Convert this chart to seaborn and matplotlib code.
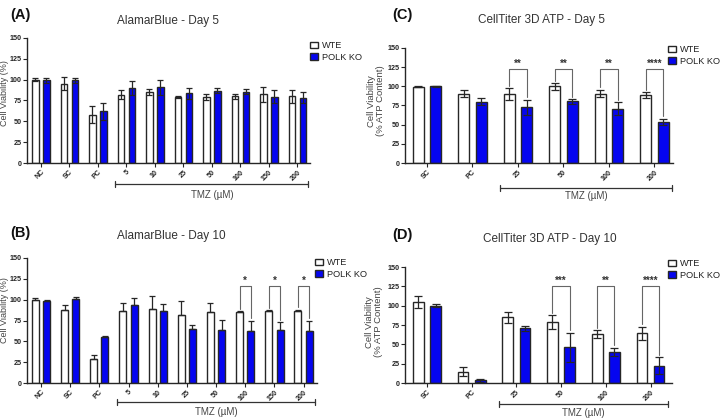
import numpy as np
import pandas as pd
import matplotlib
matplotlib.use('Agg')
import matplotlib.pyplot as plt
import matplotlib.transforms as mtransforms
from matplotlib.patches import Patch
import seaborn as sns

# ---------------- data ----------------
groups = ['WTE', 'POLK KO']

a_cats = ['NC', 'SC', 'PC', '5', '10', '25', '50', '100', '150', '200']
a_wte = [100, 95, 58, 82, 85, 79, 79, 80, 82.5, 80]
a_wte_sd = [1.5, 8, 10, 5, 4, 1.5, 3.5, 3, 9, 7.5]
a_ko = [99, 99, 62, 90, 91, 83.5, 86.5, 85.5, 79.5, 78.5]
a_ko_sd = [3, 3, 10, 8, 9, 6.5, 3, 3, 7.5, 6.5]

b_cats = ['NC', 'SC', 'PC', '5', '10', '25', '50', '100', '150', '200']
b_wte = [100, 88, 29, 86, 89, 82, 85, 85.5, 86, 86]
b_wte_sd = [2, 6, 5, 10.5, 16, 17, 11, 0.5, 1.5, 2]
b_ko = [99, 100.5, 55, 93.5, 87, 65, 64, 62, 63.5, 63]
b_ko_sd = [1, 3, 2, 8.5, 8, 5, 12, 13, 9.5, 12]
b_sig = {'100': '*', '150': '*', '200': '*'}

c_cats = ['SC', 'PC', '25', '50', '100', '200']
c_wte = [99.5, 90.5, 90, 100, 90.5, 88.5]
c_wte_sd = [0.7, 4.5, 8, 4.5, 5, 4]
c_ko = [100, 80, 72.5, 80.5, 71, 53.5]
c_ko_sd = [0.3, 5, 10, 3, 8, 4.5]
c_sig = {'25': '**', '50': '**', '100': '**', '200': '****'}

d_cats = ['SC', 'PC', '25', '50', '100', '200']
d_wte = [105, 14.5, 85, 78.5, 63.5, 64.5]
d_wte_sd = [8, 6, 7, 9, 5, 8.5]
d_ko = [100, 3.5, 70.5, 46, 40.5, 22.5]
d_ko_sd = [2, 2, 3, 19, 5, 11]
d_sig = {'50': '***', '100': '**', '200': '****'}

# ---------------- style ----------------
sns.set_theme(style='ticks')
plt.rcParams['font.family'] = ['Liberation Sans', 'DejaVu Sans']

BLUE = '#0505f0'
EDGE = '#262626'
GRAY = '#444444'

fig = plt.figure(figsize=(7.2, 4.2), dpi=100)


def panel(rect, cats, wte, wte_sd, ko, ko_sd, xlim, upper_only=False,
          sig=None, sig_y=120, tmz_first='5', tmz_y=-0.17, tmz_txt_y=-0.25,
          capsize=2.2):
    ax = fig.add_axes(rect)
    n = len(cats)
    df = pd.DataFrame({
        'cond': list(cats) * 2,
        'group': ['WTE'] * n + ['POLK KO'] * n,
        'val': list(wte) + list(ko),
    })
    sns.barplot(data=df, x='cond', y='val', hue='group', order=cats,
                hue_order=groups, palette={'WTE': 'white', 'POLK KO': BLUE},
                saturation=1, width=0.77, gap=0.38, edgecolor=EDGE,
                linewidth=1.0, errorbar=None, legend=False, ax=ax)
    tops = {}
    for ci, (cont, sd) in enumerate(zip(ax.containers, [wte_sd, ko_sd])):
        xs = np.array([b.get_x() + b.get_width() / 2 for b in cont])
        ys = np.array([b.get_height() for b in cont])
        sd = np.array(sd, dtype=float)
        yerr = [np.zeros_like(sd), sd] if upper_only else sd
        ax.errorbar(xs, ys, yerr=yerr, fmt='none', ecolor=EDGE,
                    elinewidth=0.9, capsize=capsize, capthick=0.9, zorder=5)
        tops[ci] = (xs, ys + sd)

    if sig:
        for cat, stars in sig.items():
            i = cats.index(cat)
            x1, t1 = tops[0][0][i], tops[0][1][i]
            x2, t2 = tops[1][0][i], tops[1][1][i]
            ax.plot([x1, x1, x2, x2], [t1 + 3, sig_y, sig_y, t2 + 3],
                    color='#666666', lw=0.8, clip_on=False, zorder=6)
            ax.text((x1 + x2) / 2, sig_y + 0.5, stars, ha='center',
                    va='bottom', fontsize=7, fontweight='bold', color='#333333')

    # TMZ bracket
    trans = mtransforms.blended_transform_factory(ax.transData, ax.transAxes)
    i0 = cats.index(tmz_first)
    xa = i0 - 0.385
    xb = n - 1 + 0.385
    ax.plot([xa, xb], [tmz_y, tmz_y], transform=trans, color='#333333',
            lw=0.9, clip_on=False)
    for xx in (xa, xb):
        ax.plot([xx, xx], [tmz_y - 0.025, tmz_y + 0.025], transform=trans,
                color='#333333', lw=0.9, clip_on=False)
    ax.text((xa + xb) / 2, tmz_txt_y, 'TMZ (µM)', transform=trans,
            ha='center', va='center', fontsize=7, color=GRAY)

    ax.set_ylim(0, 150)
    ax.set_yticks(range(0, 151, 25))
    ax.set_xlim(*xlim)
    ax.set_xlabel('')
    ax.set_ylabel('')
    sns.despine(ax=ax)
    for s in ('left', 'bottom'):
        ax.spines[s].set_linewidth(1.0)
        ax.spines[s].set_color(EDGE)
    ax.tick_params(axis='both', labelsize=5.1, width=0.8, length=3, pad=1.0,
                   color=EDGE, labelcolor='#222222')
    ax.set_xticks(range(n))
    ax.set_xticklabels(cats, rotation=45, ha='right', rotation_mode='anchor',
                       fontweight='bold')
    for lab in ax.get_yticklabels():
        lab.set_fontweight('bold')
    return ax


def legend(ax, x, y):
    handles = [Patch(facecolor='white', edgecolor=EDGE, lw=1.0, label='WTE'),
               Patch(facecolor=BLUE, edgecolor=EDGE, lw=1.0, label='POLK KO')]
    ax.legend(handles=handles, loc='upper left', bbox_to_anchor=(x, y),
              bbox_transform=fig.transFigure, frameon=False, fontsize=6.6,
              handlelength=0.9, handleheight=0.7, handletextpad=0.4,
              labelspacing=0.3, borderaxespad=0, borderpad=0,
              labelcolor='#222222')


W, H = 720, 420


def rect(l, r, y0, y150):
    return [l / W, 1 - y0 / H, (r - l) / W, (y0 - y150) / H]


axA = panel(rect(27, 310, 163, 38), a_cats, a_wte, a_wte_sd, a_ko, a_ko_sd,
            (-0.49, 9.44), tmz_first='5', tmz_y=-0.168, tmz_txt_y=-0.255)
axB = panel(rect(27, 317, 383, 258), b_cats, b_wte, b_wte_sd, b_ko, b_ko_sd,
            (-0.48, 9.46), upper_only=True, sig=b_sig, sig_y=116,
            tmz_first='5', tmz_y=-0.152, tmz_txt_y=-0.232)
axC = panel(rect(405, 673, 163, 48), c_cats, c_wte, c_wte_sd, c_ko, c_ko_sd,
            (-0.48, 5.41), sig=c_sig, sig_y=122, tmz_first='25',
            tmz_y=-0.217, tmz_txt_y=-0.29, capsize=3)
axD = panel(rect(405, 672, 383, 267), d_cats, d_wte, d_wte_sd, d_ko, d_ko_sd,
            (-0.49, 5.48), sig=d_sig, sig_y=125, tmz_first='25',
            tmz_y=-0.181, tmz_txt_y=-0.259, capsize=3)

legend(axA, 310 / W, 1 - 41 / H)
legend(axB, 315 / W, 1 - 258 / H)
legend(axC, 668 / W, 1 - 45 / H)
legend(axD, 668 / W, 1 - 259 / H)

# titles
fig.text(168 / W, 1 - 21 / H, 'AlamarBlue - Day 5', ha='center', va='center',
         fontsize=8.5, color='#333333')
fig.text(542 / W, 1 - 20 / H, 'CellTiter 3D ATP - Day 5', ha='center',
         va='center', fontsize=8.5, color='#333333')
fig.text(171 / W, 1 - 236 / H, 'AlamarBlue - Day 10', ha='center',
         va='center', fontsize=8.5, color='#333333')
fig.text(550 / W, 1 - 239 / H, 'CellTiter 3D ATP - Day 10', ha='center',
         va='center', fontsize=8.5, color='#333333')

# panel labels
for lab, x, y in [('(A)', 10, 15), ('(C)', 392, 15), ('(B)', 10, 233),
                  ('(D)', 392, 235)]:
    fig.text(x / W, 1 - y / H, lab, ha='left', va='center', fontsize=10.5,
             fontweight='bold', color='#111111')

# y labels
fig.text(4.6 / W, 1 - 93 / H, 'Cell Viability (%)', rotation=90, ha='center',
         va='center', fontsize=6.5, color=GRAY)
fig.text(4.6 / W, 1 - 310 / H, 'Cell Viability (%)', rotation=90, ha='center',
         va='center', fontsize=6.5, color=GRAY)
fig.text(376 / W, 1 - 101 / H, 'Cell Viability\n(% ATP Content)', rotation=90,
         ha='center', va='center', fontsize=6.8, color=GRAY, linespacing=1.0)
fig.text(374 / W, 1 - 322 / H, 'Cell Viability\n(% ATP Content)', rotation=90,
         ha='center', va='center', fontsize=6.8, color=GRAY, linespacing=1.0)

fig.savefig('out.png', dpi=100, facecolor='white')
